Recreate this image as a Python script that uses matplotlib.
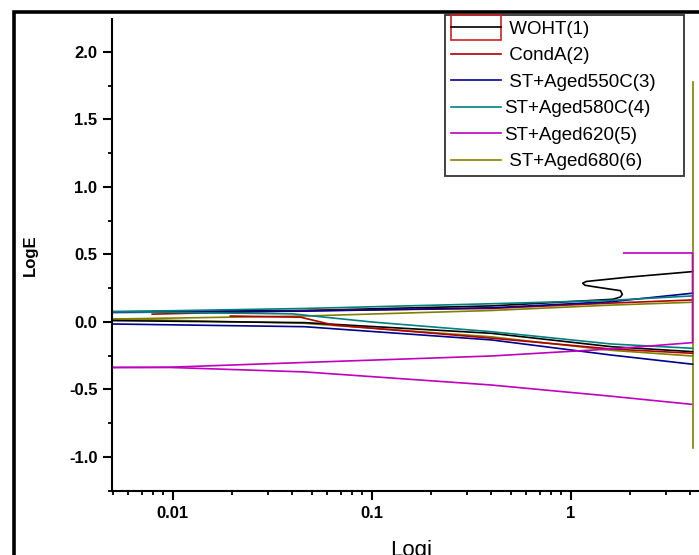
import matplotlib
matplotlib.use("Agg")
import matplotlib.pyplot as plt
from matplotlib.patches import Rectangle
from matplotlib.lines import Line2D
from matplotlib.ticker import FixedLocator, NullFormatter

plt.rcParams['font.family'] = ['Liberation Sans', 'DejaVu Sans']

# ---- data (Logi, LogE) ----
labels = [" WOHT(1)", " CondA(2)", " ST+Aged550C(3)", "ST+Aged580C(4)", "ST+Aged620(5)", " ST+Aged680(6)"]
colors = ["#000000", "#B00000", "#000090", "#008080", "#C000C0", "#808000"]

# WOHT(1)
woht_hi_x = [0.005, 0.046, 0.4, 1.63, 1.78, 1.82, 1.78, 1.55, 1.30, 1.18, 1.15, 1.20, 1.92, 4.1]
woht_hi_y = [0.076, 0.085, 0.119, 0.168, 0.185, 0.205, 0.232, 0.245, 0.262, 0.272, 0.287, 0.300, 0.331, 0.373]
woht_lo_x = [0.005, 0.046, 0.4, 1.6, 4.1]
woht_lo_y = [0.010, -0.005, -0.084, -0.183, -0.220]

# CondA(2)
conda_hi_x = [0.0079, 0.046, 0.4, 1.6, 4.1]
conda_hi_y = [0.058, 0.084, 0.100, 0.140, 0.163]
conda_lo_x = [0.0195, 0.044, 0.064, 0.4, 1.6, 4.1]
conda_lo_y = [0.044, 0.035, -0.022, -0.120, -0.200, -0.232]

# ST+Aged550C(3)
a550_hi_x = [0.005, 0.046, 0.4, 1.6, 4.1]
a550_hi_y = [0.070, 0.080, 0.105, 0.150, 0.213]
a550_lo_x = [0.005, 0.046, 0.4, 1.6, 4.1]
a550_lo_y = [-0.015, -0.035, -0.133, -0.245, -0.313]

# ST+Aged580C(4)
a580_hi_x = [0.005, 0.046, 0.4, 1.6, 4.1]
a580_hi_y = [0.076, 0.100, 0.135, 0.160, 0.193]
a580_lo_x = [0.005, 0.04, 0.1, 0.4, 1.6, 4.1]
a580_lo_y = [0.076, 0.060, 0.000, -0.072, -0.163, -0.195]

# ST+Aged620(5)
a620_hi_x = [0.005, 0.0097, 0.046, 0.4, 1.6, 4.1, 4.1, 1.85]
a620_hi_y = [-0.337, -0.335, -0.300, -0.252, -0.200, -0.153, 0.511, 0.511]
a620_lo_x = [0.005, 0.0097, 0.046, 0.4, 1.6, 4.05]
a620_lo_y = [-0.337, -0.337, -0.370, -0.467, -0.550, -0.610]

# ST+Aged680(6)
a680_hi_x = [0.005, 0.046, 0.4, 1.6, 4.1]
a680_hi_y = [0.022, 0.044, 0.085, 0.125, 0.146]
a680_lo_x = [0.005, 0.046, 0.4, 1.6, 4.1]
a680_lo_y = [0.022, -0.010, -0.110, -0.210, -0.252]
a680_v_x = [4.12, 4.12]
a680_v_y = [-0.93, 1.78]

series = [
    [(woht_hi_x, woht_hi_y), (woht_lo_x, woht_lo_y)],
    [(conda_hi_x, conda_hi_y), (conda_lo_x, conda_lo_y)],
    [(a550_hi_x, a550_hi_y), (a550_lo_x, a550_lo_y)],
    [(a580_hi_x, a580_hi_y), (a580_lo_x, a580_lo_y)],
    [(a620_hi_x, a620_hi_y), (a620_lo_x, a620_lo_y)],
    [(a680_hi_x, a680_hi_y), (a680_lo_x, a680_lo_y), (a680_v_x, a680_v_y)],
]

yticks = [-1.0, -0.5, 0.0, 0.5, 1.0, 1.5, 2.0]
xticks = [0.01, 0.1, 1]
xtick_labels = ["0.01", "0.1", "1"]

W, H = 699, 555
fig = plt.figure(figsize=(W / 100, H / 100), dpi=100)
ax = fig.add_axes([112 / W, 1 - 491 / H, (710 - 112) / W, (491 - 19) / H])

handles = []
for i, (parts, c) in enumerate(zip(series, colors)):
    z = 1.9 if i == 5 else 2.1
    for j, (xs, ys) in enumerate(parts):
        ln, = ax.plot(xs, ys, color=c, lw=1.2, zorder=z)
        if j == 0:
            handles.append(ln)

ax.set_xscale('log')
ax.set_xlim(0.00496, 5.02)
ax.set_ylim(-1.252, 2.244)

ax.spines['top'].set_visible(False)
ax.spines['right'].set_visible(False)
for s in ['left', 'bottom']:
    ax.spines[s].set_linewidth(1.5)

ax.set_yticks(yticks)
ax.set_yticklabels([f"{v:.1f}" for v in yticks])
ax.yaxis.set_minor_locator(FixedLocator([-1.25, -0.75, -0.25, 0.25, 0.75, 1.25, 1.75]))
ax.set_xticks(xticks)
ax.set_xticklabels(xtick_labels)
minor_x = [m * 10.0 ** e for e in (-3, -2, -1, 0) for m in range(2, 10)]
ax.xaxis.set_minor_locator(FixedLocator(minor_x))
ax.xaxis.set_minor_formatter(NullFormatter())

ax.tick_params(which='major', direction='out', length=6.5, width=1.5, labelsize=12, pad=4)
ax.tick_params(which='minor', direction='out', length=3.2, width=1.3)
for t in ax.get_xticklabels() + ax.get_yticklabels():
    t.set_fontweight('bold')

ax.set_ylabel("LogE", fontsize=12, fontweight='bold', labelpad=22)
ax.set_xlabel("Logi", fontsize=16, labelpad=14)


class BoxLineHandler:
    def legend_artist(self, legend, orig_handle, fontsize, handlebox):
        x0, y0 = handlebox.xdescent, handlebox.ydescent
        w, h = handlebox.width, handlebox.height
        tr = handlebox.get_transform()
        rect = Rectangle((x0, y0 - h * 0.45), w, h * 1.9, fill=False, ec='#CC2222', lw=1.2, transform=tr)
        line = Line2D([x0, x0 + w], [y0 + h / 2] * 2, color='k', lw=1.2, transform=tr)
        handlebox.add_artist(rect)
        handlebox.add_artist(line)
        return rect


leg = fig.legend(handles, labels, loc='upper left',
                 bbox_to_anchor=(445 / W, 1 - 15 / H, (684 - 445) / W, 0.0),
                 mode='expand', fontsize=13.5, handlelength=2.7, handletextpad=0.15,
                 borderpad=0.3, labelspacing=0.5, borderaxespad=0.0, fancybox=False,
                 frameon=True, handler_map={handles[0]: BoxLineHandler()})
leg.get_frame().set_edgecolor('black')
leg.get_frame().set_linewidth(1.3)

# outer frame
fig.add_artist(Rectangle((14 / W, -0.2), 2.0, 1.2 - 12 / H, fill=False, ec='black', lw=2.6,
                         transform=fig.transFigure))

fig.savefig("out.png", dpi=100)
